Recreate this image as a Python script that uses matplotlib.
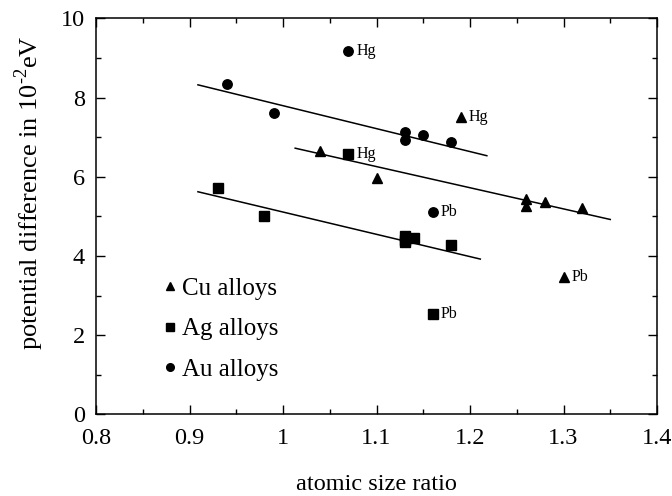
import matplotlib.pyplot as plt
from matplotlib.ticker import MultipleLocator

plt.rcParams['font.family'] = ['Liberation Serif', 'DejaVu Serif']
plt.rcParams['mathtext.fontset'] = 'custom'
plt.rcParams['mathtext.rm'] = 'Liberation Serif'

# Cu alloys (triangles)
cu_x = [1.04, 1.10, 1.19, 1.26, 1.26, 1.28, 1.32, 1.30]
cu_y = [6.66, 5.96, 7.50, 5.43, 5.27, 5.37, 5.20, 3.46]
cu_tag = ['', '', 'Hg', '', '', '', '', 'Pb']

# Ag alloys (squares)
ag_x = [0.93, 0.98, 1.07, 1.13, 1.13, 1.13, 1.14, 1.18, 1.16]
ag_y = [5.71, 5.01, 6.57, 4.50, 4.40, 4.35, 4.45, 4.28, 2.53]
ag_tag = ['', '', 'Hg', '', '', '', '', '', 'Pb']

# Au alloys (circles)
au_x = [0.94, 0.99, 1.07, 1.13, 1.13, 1.15, 1.18, 1.16]
au_y = [8.33, 7.62, 9.18, 7.12, 6.93, 7.05, 6.87, 5.12]
au_tag = ['', '', 'Hg', '', '', '', '', 'Pb']

# fitted lines (end points)
au_fit_x = [0.909, 1.218]
au_fit_y = [8.32, 6.53]
cu_fit_x = [1.013, 1.350]
cu_fit_y = [6.72, 4.92]
ag_fit_x = [0.909, 1.211]
ag_fit_y = [5.62, 3.92]

fig = plt.figure(figsize=(6.72, 4.96), dpi=100)
ax = fig.add_axes([0.1429, 0.1647, 0.8348, 0.7984])

for fx, fy in [(au_fit_x, au_fit_y), (cu_fit_x, cu_fit_y), (ag_fit_x, ag_fit_y)]:
    ax.plot(fx, fy, color='black', lw=1.1)

ax.plot(cu_x, cu_y, '^', color='black', ms=7.5, ls='none')
ax.plot(ag_x, ag_y, 's', color='black', ms=6.5, ls='none')
ax.plot(au_x, au_y, 'o', color='black', ms=6.8, ls='none')

for xs, ys, tags in [(cu_x, cu_y, cu_tag), (ag_x, ag_y, ag_tag), (au_x, au_y, au_tag)]:
    for x, y, t in zip(xs, ys, tags):
        if t:
            ax.annotate(t, (x, y), xytext=(6, 0), textcoords='offset points',
                        va='center', ha='left', fontsize=11.5)

# legend
h1, = ax.plot([], [], '^', color='black', ms=6)
h2, = ax.plot([], [], 's', color='black', ms=5.5)
h3, = ax.plot([], [], 'o', color='black', ms=5.5)
ax.legend([h1, h2, h3], ['Cu alloys', 'Ag alloys', 'Au alloys'],
          loc='lower left', bbox_to_anchor=(0.088, 0.04), frameon=False,
          fontsize=18, handlelength=0.6, handletextpad=0.15, labelspacing=0.72,
          borderpad=0.2)

ax.set_xlim(0.8, 1.4)
ax.set_ylim(0, 10)
ax.xaxis.set_major_locator(MultipleLocator(0.1))
ax.xaxis.set_minor_locator(MultipleLocator(0.05))
ax.yaxis.set_major_locator(MultipleLocator(2))
ax.yaxis.set_minor_locator(MultipleLocator(1))
ax.set_xticks([0.8, 0.9, 1.0, 1.1, 1.2, 1.3, 1.4])
ax.set_xticklabels(['0.8', '0.9', '1', '1.1', '1.2', '1.3', '1.4'])
ax.tick_params(which='both', direction='in', top=True, right=True, labelsize=17.5)
ax.tick_params(which='major', length=6.5, width=1)
ax.tick_params(which='minor', length=3.6, width=1)
ax.tick_params(axis='x', pad=10)
ax.tick_params(axis='y', pad=8)
for s in ax.spines.values():
    s.set_linewidth(1.1)

ax.set_xlabel('atomic size ratio', fontsize=17.5, labelpad=18)
ax.set_ylabel('potential difference in 10$^{\\text{-}2}$eV', fontsize=19)
ax.yaxis.set_label_coords(-0.09, 0.56)

fig.savefig('out.png', dpi=100)
